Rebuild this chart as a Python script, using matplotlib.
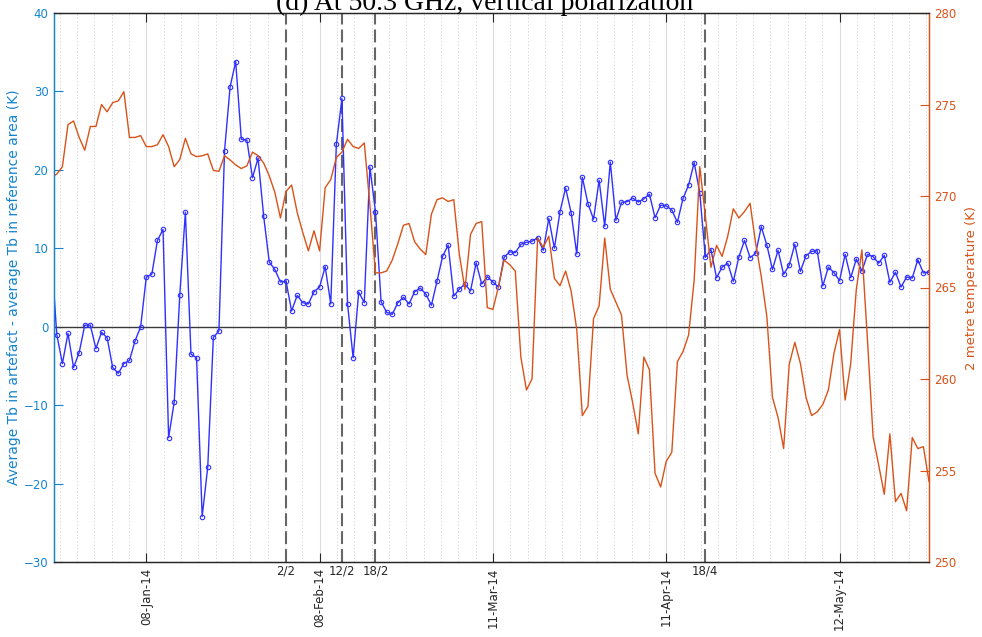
import numpy as np
import pandas as pd
import matplotlib
matplotlib.use('Agg')
import matplotlib.pyplot as plt
import matplotlib.dates as mdates
import matplotlib.transforms as mtransforms

# daily series starting 22 Dec 2013
start_day = '2013-12-22'

# Tb difference artefact - reference (K)
tb_diff = [
    9.4, -1.0, -4.7, -0.85, -5.2, -3.3, 0.2, 0.2, -2.8, -0.7,
    -1.4, -5.2, -5.95, -4.7, -4.3, -1.8, 0.0, 6.3, 6.7, 11.0,
    12.4, -14.15, -9.6, 4.1, 14.6, -3.5, -3.95, -24.2, -17.9, -1.35,
    -0.55, 22.4, 30.6, 33.8, 23.9, 23.8, 19.0, 21.5, 14.1, 8.25, 7.3,
    5.7, 5.8, 2.0, 4.0, 3.06, 2.9, 4.46, 5.06, 7.65, 2.9,
    23.25, 29.1, 2.93, -3.95, 4.42, 3.06, 20.36, 14.66, 3.19, 1.83,
    1.58, 3.06, 3.75, 2.9, 4.46, 4.93, 4.17, 2.73,
    5.78, 8.97, 10.4, 3.9, 4.8, 5.44, 4.55, 8.16, 5.44, 6.37,
    5.7, 5.06, 8.85, 9.55, 9.44, 10.5, 10.76, 10.9, 11.35, 9.74,
    13.8, 10.0, 14.66, 17.7, 14.5, 9.27, 19.05, 15.7, 13.7, 18.67, 12.8,
    21.0, 13.57, 15.86, 15.94, 16.4, 15.9, 16.3, 16.9, 13.9, 15.5,
    15.4, 14.9, 13.3, 16.35, 18.05, 20.93, 17.07, 8.85, 9.83, 6.23,
    7.6, 8.1, 5.78, 8.9, 11.0, 8.8, 9.35, 12.75, 10.4, 7.3,
    9.74, 6.68, 7.87, 10.5, 7.06, 9.05, 9.6, 9.7, 5.19, 7.6,
    6.9, 5.87, 9.23, 6.25, 8.63, 7.1, 9.23, 8.93, 8.1, 9.1,
    5.66, 6.94, 5.06, 6.34, 6.2, 8.54, 6.85, 6.97,
]

# 2 metre temperature (K)
t2m = [
    271.0, 271.2, 271.6, 273.9, 274.1, 273.2, 272.5, 273.8, 273.8, 275.0,
    274.6, 275.1, 275.2, 275.7, 273.2, 273.2, 273.3, 272.7, 272.7, 272.8,
    273.35, 272.7, 271.6, 272.0, 273.15, 272.3, 272.15, 272.2, 272.3, 271.4,
    271.35, 272.2, 271.97, 271.7, 271.5, 271.65, 272.4, 272.2, 271.8, 271.1, 270.2,
    268.8, 270.25, 270.6, 269.1, 268.0, 267.0, 268.1, 267.0, 270.45, 270.9,
    272.1, 272.4, 273.1, 272.7, 272.6, 272.9, 269.5, 265.8, 265.8, 265.9,
    266.5, 267.4, 268.4, 268.5, 267.5, 267.1, 266.8, 269.0,
    269.8, 269.9, 269.7, 269.8, 266.8, 264.9, 267.9, 268.5, 268.6, 263.9,
    263.8, 265.05, 266.5, 266.25, 265.9, 261.2, 259.4, 260.0, 267.7, 267.2,
    267.8, 265.5, 265.1, 265.9, 264.8, 262.7, 258.0, 258.5, 263.3, 264.0, 267.7,
    264.9, 264.2, 263.5, 260.2, 258.7, 257.0, 261.2, 260.5, 254.85, 254.1,
    255.5, 256.0, 260.95, 261.5, 262.4, 265.4, 271.6, 268.9, 266.1, 267.3,
    266.7, 267.8, 269.3, 268.8, 269.15, 269.6, 267.4, 265.6, 263.4, 259.0,
    257.9, 256.2, 260.8, 262.0, 260.85, 259.0, 258.0, 258.2, 258.6, 259.4,
    261.4, 262.7, 258.85, 260.85, 264.9, 267.05, 262.1, 256.85, 255.3, 253.7,
    257.0, 253.3, 253.75, 252.8, 256.8, 256.2, 256.3, 254.4,
]

event_days = ['2014-02-02', '2014-02-12', '2014-02-18', '2014-04-18']
event_labels = ['2/2', '12/2', '18/2', '18/4']
date_ticks = ['2014-01-08', '2014-02-08', '2014-03-11', '2014-04-11', '2014-05-12']

blue = '#1584cc'
orange = '#d95319'
dark = '#262626'

days = pd.date_range(start_day, periods=len(tb_diff), freq='D')
t_days = pd.date_range(start_day, periods=len(t2m), freq='D')

fig = plt.figure(figsize=(9.82, 6.37), dpi=100)
ax = fig.add_axes([54/982, 75/637, 875/982, 549/637])
ax2 = ax.twinx()

ax.axhline(0, color='#3a3a3a', lw=1.0, zorder=1)
for d in event_days:
    ax.axvline(pd.Timestamp(d), color='#666666', lw=1.5,
               linestyle=(0, (6.2, 2.4)), zorder=2)

ax.plot(days, tb_diff, color='#3030ff', lw=1.0, marker='o', ms=3.2,
        mfc='none', mew=0.8, zorder=3)
ax2.plot(t_days, t2m, color=orange, lw=1.0)

x0 = pd.Timestamp('2013-12-22 12:00')
x1 = pd.Timestamp('2014-05-28 00:00')
ax.set_xlim(x0, x1)
ax.set_ylim(-30, 40)
ax2.set_ylim(250, 280)
ax.set_yticks(np.arange(-30, 41, 10))
ax2.set_yticks(np.arange(250, 281, 5))

major = [mdates.date2num(pd.Timestamp(d)) for d in date_ticks]
ax.set_xticks([pd.Timestamp(d) for d in date_ticks])
ax.xaxis.set_major_formatter(mdates.DateFormatter('%d-%b-%y'))
minor = np.arange(major[0] - 31, mdates.date2num(x1), 3.1)
ax.xaxis.set_minor_locator(matplotlib.ticker.FixedLocator(minor))

ax.grid(True, axis='x', which='major', color='#dcdcdc', lw=0.8)
ax.grid(True, axis='x', which='minor', color='#cfcfcf', lw=0.6, linestyle=(0, (1.5, 2.5)))
ax.set_axisbelow(True)

ax.tick_params(axis='x', which='major', direction='in', length=6.5, width=0.8,
               top=True, color=dark, labelsize=8.5, labelcolor=dark,
               labelrotation=90, pad=4)
ax.tick_params(axis='x', which='minor', length=0, top=True)
ax.tick_params(axis='y', direction='in', length=6.5, width=0.8, color=blue,
               labelcolor=blue, labelsize=8.5, pad=4)
ax2.tick_params(axis='y', direction='in', length=6.5, width=0.8, color=orange,
                labelcolor=orange, labelsize=8.5, pad=4)

for a in (ax, ax2):
    a.spines['left'].set_color(blue)
    a.spines['right'].set_color(orange)
    a.spines['top'].set_color(dark)
    a.spines['bottom'].set_color(dark)
    for s in a.spines.values():
        s.set_linewidth(0.9)

ax.set_ylabel('Average Tb in artefact - average Tb in reference area (K)',
              color=blue, fontsize=10, labelpad=2)
ax2.set_ylabel('2 metre temperature (K)', color=orange, fontsize=9.5, labelpad=6)

trans = mtransforms.blended_transform_factory(ax.transData, ax.transAxes)
for d, lab in zip(event_days, event_labels):
    ax.text(pd.Timestamp(d), -0.005, lab, transform=trans, ha='center', va='top',
            fontsize=8.5, color=dark)

fig.text((275 + 695) / 2 / 982, 1 - 9.5 / 637, '(d) At 50.3 GHz, vertical polarization',
         ha='center', va='baseline', family='Liberation Serif', fontsize=20)

fig.savefig('out.png', dpi=100)
